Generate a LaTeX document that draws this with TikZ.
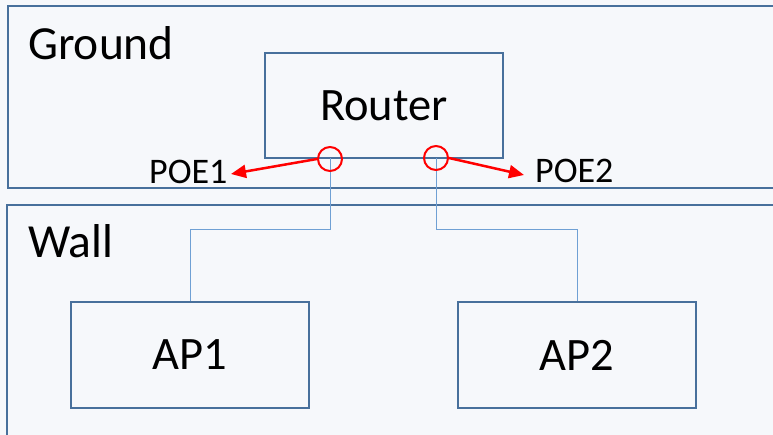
\documentclass[tikz,border=0pt]{standalone}
\usepackage{fontspec}
\setmainfont{Carlito}
\usetikzlibrary{arrows.meta}
\definecolor{bg}{HTML}{F6F8FB}
\definecolor{boxline}{HTML}{48709C}
\definecolor{wire}{HTML}{6FA0D4}
\definecolor{poered}{HTML}{FF0000}
\tikzset{
  zone/.style={draw=boxline, line width=2.3pt},
  devbox/.style={draw=boxline, line width=2.3pt, fill=bg, inner sep=0pt,
    font=\fontsize{46.5}{50}\selectfont},
  zonelabel/.style={anchor=base west, inner sep=0pt, font=\fontsize{47.5}{50}\selectfont},
  poelabel/.style={anchor=base west, inner sep=0pt, font=\fontsize{36}{40}\selectfont},
  port/.style={circle, draw=poered, line width=2pt, minimum size=24pt, inner sep=0pt},
  wireline/.style={draw=wire, line width=1pt},
  poearrow/.style={draw=poered, line width=2.5pt, -{Triangle[length=15pt,width=13pt]}}
}
\begin{document}
\begin{tikzpicture}[x=1pt,y=-1pt]
\useasboundingbox (0,0) rectangle (773,435);
\fill[bg] (0,0) rectangle (773,435);
% zones
\draw[zone] (8,6) rectangle (790,188);
\draw[zone] (7,205) rectangle (790,450);
\node[zonelabel] (ground) at (28,60) {Ground};
\node[zonelabel] (wall) at (28,258) {Wall};
% devices
\node[devbox, minimum width=238pt, minimum height=105pt] (router) at (384,105.5) {Router};
\node[devbox, minimum width=238pt, minimum height=106pt] (ap1) at (190,355) {AP1};
\node[devbox, minimum width=238pt, minimum height=106pt] (ap2) at (577,355) {AP2};
% ports
\coordinate (p1c) at (330,158);
\coordinate (p2c) at (436,158);
\coordinate (j1) at (330,230);
\coordinate (j2) at (436,230);
\draw[wireline] (p1c) -- (j1) -| (ap1.north);
\draw[wireline] (p2c) -- (j2) -| (ap2.north);
\node[port] (port1) at (330,159) {};
\node[port] (port2) at (436,158) {};
% POE labels and arrows
\node[poelabel] (poe1) at (149,184) {POE1};
\node[poelabel] (poe2) at (535,183) {POE2};
\coordinate (t1) at (231,174);
\coordinate (t2) at (524,175);
\draw[poearrow] (port1.west) -- (t1);
\draw[poearrow] (port2.east) -- (t2);
\end{tikzpicture}
\end{document}
